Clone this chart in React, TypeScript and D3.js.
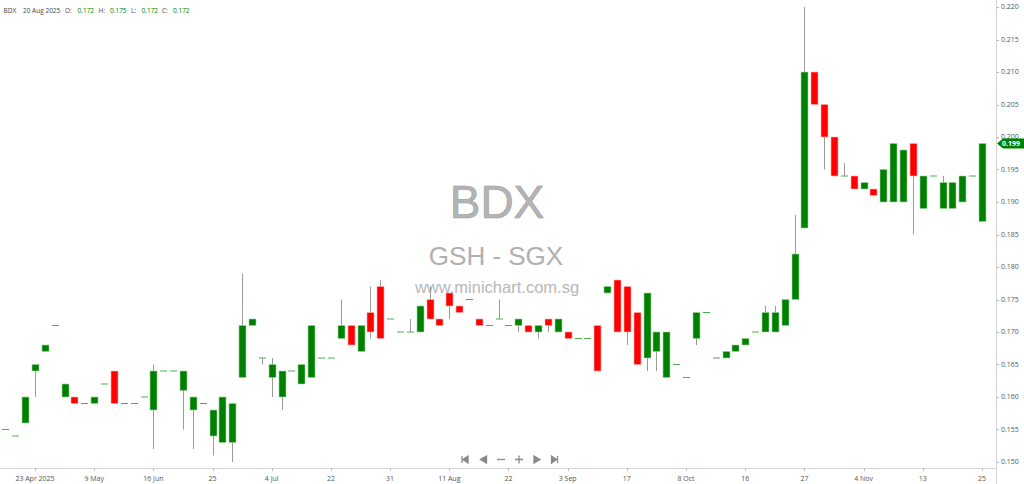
// @ts-nocheck
import React, { useEffect, useRef } from "react";
import * as d3 from "d3";

const symbol = "BDX";
const exchange = "GSH - SGX";
const site = "www.minichart.com.sg";

// one entry per trading session, oldest first
const opens = [
  0.155, 0.154, 0.156, 0.164, 0.167, 0.171, 0.160, 0.160, 0.159, 0.159,
  0.162, 0.164, 0.159, 0.159, 0.160, 0.158, 0.164, 0.164, 0.161, 0.158,
  0.159, 0.154, 0.153, 0.153, 0.163, 0.171, 0.166, 0.163, 0.160, 0.164,
  0.162, 0.163, 0.166, 0.166, 0.169, 0.171, 0.167, 0.173, 0.177, 0.172,
  0.170, 0.170, 0.170, 0.175, 0.172, 0.176, 0.174, 0.175, 0.172, 0.171,
  0.172, 0.171, 0.171, 0.171, 0.170, 0.172, 0.170, 0.170, 0.169, 0.169,
  0.171, 0.176, 0.178, 0.177, 0.173, 0.166, 0.167, 0.163, 0.165, 0.163,
  0.169, 0.173, 0.166, 0.166, 0.167, 0.168, 0.170, 0.170, 0.170, 0.171,
  0.175, 0.186, 0.210, 0.205, 0.200, 0.194, 0.194, 0.192, 0.192, 0.190,
  0.190, 0.190, 0.199, 0.189, 0.194, 0.189, 0.189, 0.190, 0.194, 0.187,
];
const highs = [
  0.155, 0.154, 0.160, 0.165, 0.168, 0.171, 0.162, 0.160, 0.159, 0.160,
  0.162, 0.164, 0.159, 0.159, 0.160, 0.165, 0.164, 0.164, 0.164, 0.160,
  0.159, 0.158, 0.160, 0.159, 0.179, 0.172, 0.166, 0.166, 0.164, 0.164,
  0.165, 0.171, 0.166, 0.166, 0.175, 0.171, 0.171, 0.177, 0.178, 0.172,
  0.170, 0.172, 0.174, 0.177, 0.172, 0.176, 0.174, 0.175, 0.172, 0.171,
  0.175, 0.171, 0.172, 0.171, 0.171, 0.172, 0.172, 0.170, 0.169, 0.169,
  0.171, 0.177, 0.178, 0.177, 0.173, 0.176, 0.170, 0.170, 0.165, 0.163,
  0.173, 0.173, 0.166, 0.167, 0.168, 0.169, 0.170, 0.174, 0.174, 0.175,
  0.188, 0.220, 0.210, 0.205, 0.200, 0.196, 0.194, 0.193, 0.192, 0.195,
  0.199, 0.198, 0.199, 0.194, 0.194, 0.194, 0.193, 0.194, 0.194, 0.199,
];
const lows = [
  0.155, 0.154, 0.156, 0.160, 0.167, 0.171, 0.160, 0.159, 0.159, 0.159,
  0.162, 0.159, 0.159, 0.159, 0.160, 0.152, 0.164, 0.164, 0.155, 0.152,
  0.159, 0.151, 0.153, 0.150, 0.163, 0.171, 0.165, 0.160, 0.158, 0.164,
  0.162, 0.163, 0.166, 0.166, 0.169, 0.168, 0.167, 0.169, 0.169, 0.172,
  0.170, 0.170, 0.170, 0.172, 0.171, 0.172, 0.173, 0.175, 0.171, 0.171,
  0.172, 0.171, 0.170, 0.170, 0.169, 0.170, 0.170, 0.169, 0.169, 0.169,
  0.164, 0.176, 0.170, 0.168, 0.165, 0.164, 0.164, 0.163, 0.165, 0.163,
  0.168, 0.173, 0.166, 0.166, 0.167, 0.168, 0.170, 0.170, 0.170, 0.171,
  0.175, 0.186, 0.205, 0.195, 0.194, 0.194, 0.192, 0.192, 0.191, 0.190,
  0.190, 0.190, 0.185, 0.189, 0.194, 0.189, 0.189, 0.190, 0.194, 0.187,
];
const closes = [
  0.155, 0.154, 0.160, 0.165, 0.168, 0.171, 0.162, 0.159, 0.159, 0.160,
  0.162, 0.159, 0.159, 0.159, 0.160, 0.164, 0.164, 0.164, 0.164, 0.160,
  0.159, 0.158, 0.160, 0.159, 0.171, 0.172, 0.166, 0.165, 0.164, 0.164,
  0.165, 0.171, 0.166, 0.166, 0.171, 0.168, 0.171, 0.170, 0.169, 0.172,
  0.170, 0.170, 0.174, 0.172, 0.171, 0.174, 0.173, 0.175, 0.171, 0.171,
  0.172, 0.171, 0.172, 0.170, 0.171, 0.171, 0.172, 0.169, 0.169, 0.169,
  0.164, 0.177, 0.170, 0.170, 0.165, 0.176, 0.170, 0.170, 0.165, 0.163,
  0.173, 0.173, 0.166, 0.167, 0.168, 0.169, 0.170, 0.173, 0.173, 0.175,
  0.182, 0.210, 0.205, 0.200, 0.194, 0.194, 0.192, 0.193, 0.191, 0.195,
  0.199, 0.198, 0.194, 0.194, 0.194, 0.193, 0.193, 0.194, 0.194, 0.199,
];

// date labels sit under every sixth session
const dateTickIndex = [3, 9, 15, 21, 27, 33, 39, 45, 51, 57, 63, 69, 75, 81, 87, 93, 99];
const dateTickLabels = [
  "23 Apr 2025", "9 May", "16 Jun", "25", "4 Jul", "22", "31", "11 Aug", "22",
  "3 Sep", "17", "8 Oct", "16", "27", "4 Nov", "13", "25",
];
const priceTicks = [
  0.15, 0.155, 0.16, 0.165, 0.17, 0.175, 0.18, 0.185, 0.19, 0.195, 0.2, 0.205,
  0.21, 0.215, 0.22,
];

// the session shown in the header line
const headerDate = "20 Aug 2025";
const headerIndex = 50;

const UP = "#008000";
const DOWN = "#ff0000";

const Chart = () => {
  const svgRef = useRef();

  useEffect(() => {
    const width = 1024;
    const height = 484;
    const plotRight = 996;
    const plotBottom = 468;
    const font = "'Open Sans', 'Liberation Sans', sans-serif";

    d3.select(svgRef.current).selectAll("*").remove();
    const svg = d3
      .select(svgRef.current)
      .attr("width", width)
      .attr("height", height)
      .style("font-family", font);

    svg.append("rect").attr("width", width).attr("height", height).attr("fill", "white");

    const x = d3.scaleLinear().domain([0, opens.length - 1]).range([5.4, 982]);
    const y = d3.scaleLinear().domain([0.15, 0.22]).range([462, 7]);
    const bodyW = 7;

    const data = opens.map((o, i) => ({
      i,
      o,
      h: highs[i],
      l: lows[i],
      c: closes[i],
    }));

    svg
      .append("clipPath")
      .attr("id", "plot-clip")
      .append("rect")
      .attr("x", 0)
      .attr("y", 0)
      .attr("width", plotRight)
      .attr("height", plotBottom);

    const plot = svg.append("g").attr("clip-path", "url(#plot-clip)");

    // wicks
    plot
      .selectAll(".wick")
      .data(data.filter((d) => d.h > d.l))
      .enter()
      .append("line")
      .attr("x1", (d) => Math.round(x(d.i)) + 0.5)
      .attr("x2", (d) => Math.round(x(d.i)) + 0.5)
      .attr("y1", (d) => y(d.h))
      .attr("y2", (d) => y(d.l))
      .attr("stroke", "#9a9a9a")
      .attr("stroke-width", 1);

    // bodies
    plot
      .selectAll(".body")
      .data(data.filter((d) => d.o !== d.c))
      .enter()
      .append("rect")
      .attr("x", (d) => Math.round(x(d.i)) + 0.5 - bodyW / 2)
      .attr("y", (d) => y(Math.max(d.o, d.c)))
      .attr("width", bodyW)
      .attr("height", (d) => Math.abs(y(d.o) - y(d.c)))
      .attr("fill", (d) => (d.c > d.o ? UP : DOWN))
      .attr("stroke", (d) => (d.c > d.o ? "#9fd49f" : "#ffb0b0"))
      .attr("stroke-width", 0.6);

    // sessions with open == close get a flat dash
    plot
      .selectAll(".dash")
      .data(data.filter((d) => d.o === d.c))
      .enter()
      .append("line")
      .attr("x1", (d) => Math.round(x(d.i)) + 0.5 - bodyW / 2)
      .attr("x2", (d) => Math.round(x(d.i)) + 0.5 + bodyW / 2)
      .attr("y1", (d) => y(d.c))
      .attr("y2", (d) => y(d.c))
      .attr("stroke", "#4caf50")
      .attr("stroke-width", 1);

    // watermark
    const wm = svg
      .append("g")
      .attr("text-anchor", "middle")
      .style("font-family", "'Liberation Sans', Arial, sans-serif")
      .attr("opacity", 0.85);
    wm.append("text")
      .attr("x", 497)
      .attr("y", 218)
      .attr("font-size", 46)
      .attr("fill", "#a8a8a8")
      .attr("stroke", "#8c8c8c")
      .attr("stroke-width", 0.6)
      .text(symbol);
    wm.append("text")
      .attr("x", 496)
      .attr("y", 265)
      .attr("font-size", 26)
      .attr("fill", "#a3a3a3")
      .text(exchange);
    wm.append("text")
      .attr("x", 497)
      .attr("y", 293)
      .attr("font-size", 16.5)
      .attr("fill", "#ababab")
      .text(site);

    // right price axis
    svg
      .append("line")
      .attr("x1", plotRight + 0.5)
      .attr("x2", plotRight + 0.5)
      .attr("y1", 0)
      .attr("y2", height)
      .attr("stroke", "#d4d4d4");
    const yAxis = svg.append("g");
    yAxis
      .selectAll("line")
      .data(priceTicks)
      .enter()
      .append("line")
      .attr("x1", plotRight)
      .attr("x2", plotRight + 3)
      .attr("y1", (d) => Math.round(y(d)) + 0.5)
      .attr("y2", (d) => Math.round(y(d)) + 0.5)
      .attr("stroke", "#bbb");
    yAxis
      .selectAll("text")
      .data(priceTicks)
      .enter()
      .append("text")
      .attr("x", plotRight + 5)
      .attr("y", (d) => y(d))
      .attr("dy", "0.35em")
      .attr("font-size", 7)
      .attr("fill", "#555")
      .text((d) => d3.format(".3f")(d));

    // bottom date axis
    svg
      .append("line")
      .attr("x1", 0)
      .attr("x2", plotRight)
      .attr("y1", plotBottom + 0.5)
      .attr("y2", plotBottom + 0.5)
      .attr("stroke", "#d4d4d4");
    const xAxis = svg.append("g");
    xAxis
      .selectAll("line")
      .data(dateTickIndex)
      .enter()
      .append("line")
      .attr("x1", (d) => Math.round(x(d)) + 0.5)
      .attr("x2", (d) => Math.round(x(d)) + 0.5)
      .attr("y1", plotBottom)
      .attr("y2", plotBottom + 3)
      .attr("stroke", "#bbb");
    xAxis
      .selectAll("text")
      .data(dateTickIndex)
      .enter()
      .append("text")
      .attr("x", (d) => x(d))
      .attr("y", 481)
      .attr("text-anchor", "middle")
      .attr("font-size", 7)
      .attr("fill", "#555")
      .text((d, i) => dateTickLabels[i]);

    // last price tag
    const last = closes[closes.length - 1];
    const ty = y(last);
    svg
      .append("path")
      .attr(
        "d",
        `M${plotRight + 1},${ty} L${plotRight + 7},${ty - 5} L${width},${ty - 5} L${width},${ty + 5} L${plotRight + 7},${ty + 5} Z`,
      )
      .attr("fill", UP);
    svg
      .append("text")
      .attr("x", plotRight + 6)
      .attr("y", ty)
      .attr("dy", "0.35em")
      .attr("font-size", 7)
      .attr("font-weight", "bold")
      .attr("fill", "white")
      .text(d3.format(".3f")(last));

    // header line with OHLC of the chosen session
    const h = headerIndex;
    const fmt = d3.format(".3f");
    const header = [
      { t: symbol, x: 3.5, c: "#444" },
      { t: headerDate, x: 23, c: "#444" },
      { t: "O:", x: 65, c: "#444" },
      { t: fmt(opens[h]), x: 77.5, c: UP },
      { t: "H:", x: 98.5, c: "#444" },
      { t: fmt(highs[h]), x: 110, c: UP },
      { t: "L:", x: 131, c: "#444" },
      { t: fmt(lows[h]), x: 141.5, c: UP },
      { t: "C:", x: 162, c: "#444" },
      { t: fmt(closes[h]), x: 173, c: UP },
    ];
    svg
      .append("g")
      .selectAll("text")
      .data(header)
      .enter()
      .append("text")
      .attr("x", (d) => d.x)
      .attr("y", 13)
      .attr("font-size", 6.5)
      .attr("fill", (d) => d.c)
      .text((d) => d.t);

    // navigation buttons
    const nav = svg.append("g").attr("fill", "#8a8a8a").attr("stroke", "#8a8a8a");
    const ny = 459.5;
    const icons = [
      { x: 465, d: "M-3,-3.5 L-3,3.5 M3,-3.5 L-2,0 L3,3.5 Z" },
      { x: 483.5, d: "M3,-3.5 L-3,0 L3,3.5 Z" },
      { x: 501, d: "M-4,0 L4,0" },
      { x: 519, d: "M-4,0 L4,0 M0,-4 L0,4" },
      { x: 537, d: "M-3,-3.5 L3,0 L-3,3.5 Z" },
      { x: 554.5, d: "M-3,-3.5 L2,0 L-3,3.5 Z M3,-3.5 L3,3.5" },
    ];
    nav
      .selectAll("path")
      .data(icons)
      .enter()
      .append("path")
      .attr("transform", (d) => `translate(${d.x},${ny})`)
      .attr("d", (d) => d.d)
      .attr("stroke-width", 1.3);
  }, []);

  return <svg ref={svgRef} style={{ position: "absolute", left: 0, top: 0 }}></svg>;
};

export default function App() {
  return <Chart />;
}
